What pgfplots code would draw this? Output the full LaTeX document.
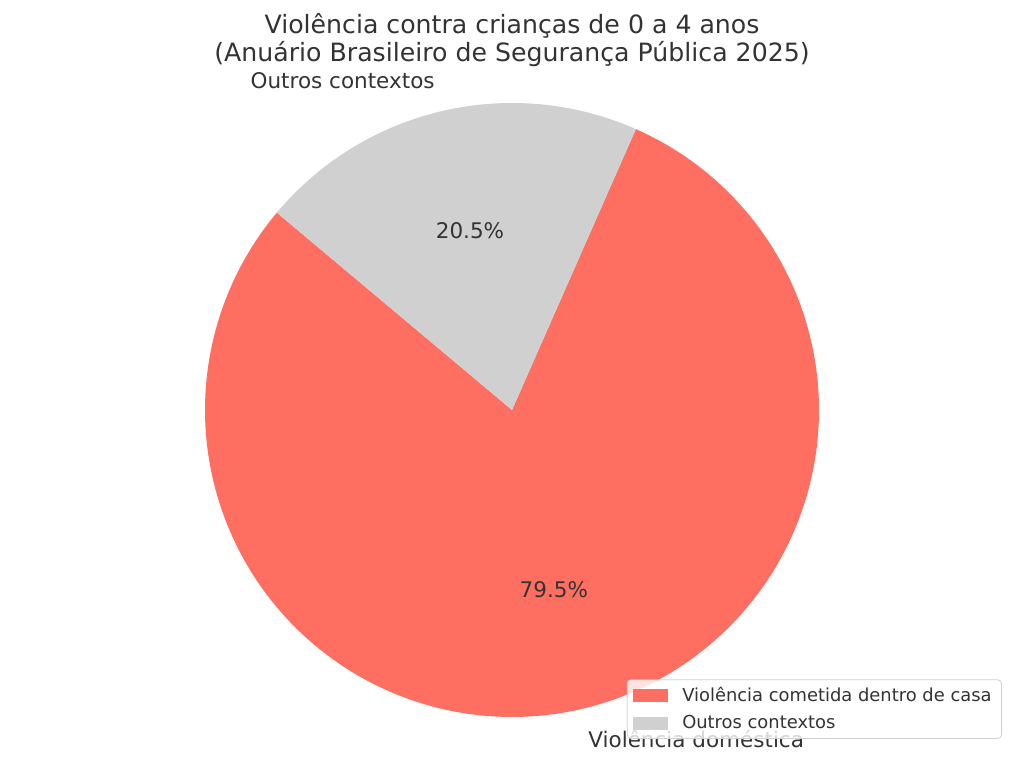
\documentclass[border=0pt]{standalone}
\usepackage{fontspec}
\setmainfont{DejaVu Sans}
\usepackage{pgfplots}
\pgfplotsset{compat=1.18}
\definecolor{pieRed}{HTML}{FF6F61}
\definecolor{pieGray}{HTML}{D0D0D0}
\definecolor{txt}{HTML}{333333}

% shares (percent) and start angle
\def\valDom{79.5}
\def\valOut{20.5}
\def\startAng{140}
\pgfmathsetmacro{\midAng}{\startAng+3.6*\valDom}
\pgfmathsetmacro{\endAng}{\midAng+3.6*\valOut}
\def\R{307}

\begin{document}
\begin{tikzpicture}
\begin{axis}[
    hide axis,
    x=0.5pt, y=0.5pt,
    xmin=-512, xmax=512,
    ymin=-353, ymax=410,
    clip=false,
    legend cell align=left,
    legend image code/.code={\path[#1,draw=none,sharp corners,fill opacity=1] (0pt,-3.25pt) rectangle (17.5pt,3.25pt);},
    legend style={
        at={(axis cs:490,-329)}, anchor=south east,
        font=\fontsize{8.95}{10}\selectfont, text=txt,
        draw=black!18, rounded corners=2pt,
        fill=white, fill opacity=0.8, text opacity=1,
        inner xsep=3pt, inner ysep=1.6pt,
        row sep=1.4pt,
        /tikz/every odd column/.append style={column sep=5pt},
    },
]
\path (axis cs:-512,-353) rectangle (axis cs:512,410);

\addplot[fill=pieRed, draw=none, domain=\startAng:\midAng, samples=240, variable=\t]
    ({\R*cos(\t)}, {\R*sin(\t)}) -- (axis cs:0,0) -- cycle;
\addlegendentry{Violência cometida dentro de casa}
\addplot[fill=pieGray, draw=none, domain=\midAng:\endAng, samples=80, variable=\t]
    ({\R*cos(\t)}, {\R*sin(\t)}) -- (axis cs:0,0) -- cycle;
\addlegendentry{Outros contextos}

\node[anchor=base, text=txt, font=\fontsize{12.6}{15}\selectfont, inner sep=0pt]
    at (axis cs:0,376.7) {Violência contra crianças de 0 a 4 anos};
\node[anchor=base, text=txt, font=\fontsize{12.6}{15}\selectfont, inner sep=0pt]
    at (axis cs:0,348.3) {(Anuário Brasileiro de Segurança Pública 2025)};

\node[anchor=east, text=txt, font=\fontsize{10.75}{13}\selectfont, inner sep=0pt]
    at (axis cs:-77,329) {Outros contextos};
\node[anchor=west, text=txt, font=\fontsize{10.75}{13}\selectfont, inner sep=0pt]
    at (axis cs:76,-329) {Violência doméstica};

\node[text=txt, font=\fontsize{10.75}{13}\selectfont, inner sep=0pt]
    at (axis cs:-42,179.4) {20.5\%};
\node[text=txt, font=\fontsize{10.75}{13}\selectfont, inner sep=0pt]
    at (axis cs:41.8,-179.4) {79.5\%};
\end{axis}
\end{tikzpicture}
\end{document}
